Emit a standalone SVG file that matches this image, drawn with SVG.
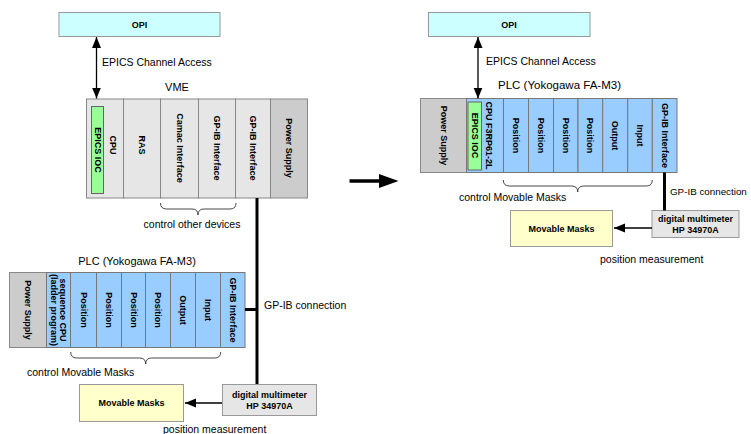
<svg xmlns="http://www.w3.org/2000/svg" width="751" height="434" viewBox="0 0 751 434">
<style>
text{font-family:"Liberation Sans",Arial,Helvetica,sans-serif;fill:#000}
.b{font-weight:bold;font-size:9px}
.lbl{font-size:10.5px}
.ttl{font-size:11px}
.opi{fill:#ccffff;stroke:#999;stroke-width:1}
.grey{fill:#e6e6e6;stroke:#888;stroke-width:1}
.ps{fill:#cccccc;stroke:#888;stroke-width:1}
.blue{fill:#99ccff;stroke:#777;stroke-width:1}
.ioc{fill:#99ff99;stroke:#666;stroke-width:1}
.yel{fill:#ffffcc;stroke:#999;stroke-width:1}
.mm{fill:#e6e6e6;stroke:#999;stroke-width:1}
.brace{fill:none;stroke:#333;stroke-width:0.9}
.arr{stroke:#000;stroke-width:1.3;fill:none}
.bus{stroke:#000;stroke-width:3;fill:none}
.r{text-anchor:middle;dominant-baseline:central}
.c{text-anchor:middle}
</style>
<defs>
<marker id="ah" markerUnits="userSpaceOnUse" markerWidth="12" markerHeight="10" refX="11" refY="4.5" orient="auto-start-reverse">
<path d="M0,0 L11,4.5 L0,9 z" fill="#000"/>
</marker>
</defs>

<!-- ===== LEFT DIAGRAM ===== -->
<g id="opi-left">
<rect class="opi" x="59" y="12.5" width="161" height="24"/>
<text class="b c" x="139.5" y="27.5">OPI</text>
</g>

<g id="vme">
<text class="ttl c" x="177" y="91">VME</text>
<rect class="grey" x="86.5" y="99" width="37" height="99"/>
<rect class="ioc" x="91.5" y="106.5" width="12" height="87"/>
<text class="b r" transform="translate(97.5,150) rotate(90)">EPICS IOC</text>
<text class="b r" transform="translate(112.5,145) rotate(90)">CPU</text>
<rect class="grey" x="123.5" y="99" width="37" height="99"/>
<text class="b r" transform="translate(142,145) rotate(90)">RAS</text>
<rect class="grey" x="160.5" y="99" width="38" height="99"/>
<text class="b r" transform="translate(179.5,148) rotate(90)">Camac Interface</text>
<rect class="grey" x="198.5" y="99" width="37" height="99"/>
<text class="b r" transform="translate(217,148) rotate(90)">GP-IB Interface</text>
<rect class="grey" x="235.5" y="99" width="35" height="99"/>
<text class="b r" transform="translate(253,148) rotate(90)">GP-IB Interface</text>
<rect class="ps" x="270.5" y="99" width="37" height="99"/>
<text class="b r" transform="translate(289,148) rotate(90)">Power Supply</text>
</g>

<g id="vme-brace">
<path class="brace" d="M160.5,203 Q160.5,209 166.5,209 L192,209 Q198,209 198,215 Q198,209 204,209 L230,209 Q236,209 236,203"/>
<text class="lbl c" x="192" y="228">control other devices</text>
</g>

<g id="plc-left">
<text class="ttl c" x="137" y="265">PLC (Yokogawa FA-M3)</text>
<rect class="ps" x="9.5" y="272.5" width="37" height="75"/>
<text class="b r" transform="translate(28,310) rotate(90)">Power Supply</text>
<rect class="blue" x="46.5" y="272.5" width="24" height="75"/>
<text class="b r" transform="translate(63,310) rotate(90)">sequence CPU</text>
<text class="b r" transform="translate(53.5,310) rotate(90)">(ladder program)</text>
<rect class="blue" x="70.5" y="272.5" width="26" height="75"/>
<text class="b r" transform="translate(83.5,310) rotate(90)">Position</text>
<rect class="blue" x="96.5" y="272.5" width="25" height="75"/>
<text class="b r" transform="translate(109,310) rotate(90)">Position</text>
<rect class="blue" x="121.5" y="272.5" width="24" height="75"/>
<text class="b r" transform="translate(133.5,310) rotate(90)">Position</text>
<rect class="blue" x="145.5" y="272.5" width="25" height="75"/>
<text class="b r" transform="translate(158,310) rotate(90)">Position</text>
<rect class="blue" x="170.5" y="272.5" width="25" height="75"/>
<text class="b r" transform="translate(183,310) rotate(90)">Output</text>
<rect class="blue" x="195.5" y="272.5" width="25" height="75"/>
<text class="b r" transform="translate(208,310) rotate(90)">Input</text>
<rect class="blue" x="220.5" y="272.5" width="24.5" height="75"/>
<text class="b r" transform="translate(233,310) rotate(90)">GP-IB Interface</text>
</g>

<g id="plc-left-brace">
<path class="brace" d="M70.7,352 Q70.7,358 76.7,358 L139.7,358 Q145.7,358 145.7,364 Q145.7,358 151.7,358 L214.7,358 Q220.7,358 220.7,352"/>
<text class="lbl" x="27" y="376">control Movable Masks</text>
</g>

<g id="masks-left">
<rect class="yel" x="79.5" y="384.5" width="104" height="37"/>
<text class="b c" x="131.5" y="406">Movable Masks</text>
</g>

<g id="dmm-left">
<rect class="mm" x="222.5" y="384.5" width="94" height="31"/>
<text class="b c" x="269.5" y="398">digital multimeter</text>
<text class="b c" x="269.5" y="409">HP 34970A</text>
</g>

<!-- ===== RIGHT DIAGRAM ===== -->
<g id="opi-right">
<rect class="opi" x="428.5" y="12.5" width="161.5" height="24"/>
<text class="b c" x="509" y="27.5">OPI</text>
</g>

<g id="plc-right">
<text class="ttl c" x="559.5" y="89" style="font-size:11.5px">PLC (Yokogawa FA-M3)</text>
<rect class="ps" x="420.5" y="98.5" width="46" height="74"/>
<text class="b r" transform="translate(443.5,135.5) rotate(90)">Power Supply</text>
<rect class="blue" x="466.5" y="98.5" width="37" height="74"/>
<rect class="ioc" x="468" y="102" width="13.5" height="68"/>
<text class="b r" transform="translate(475,135.5) rotate(90)">EPICS IOC</text>
<text class="b r" transform="translate(489,135.5) rotate(90)">CPU F3RP61-2L</text>
<rect class="blue" x="503.5" y="98.5" width="25" height="74"/>
<text class="b r" transform="translate(516,135.5) rotate(90)">Position</text>
<rect class="blue" x="528.5" y="98.5" width="25" height="74"/>
<text class="b r" transform="translate(541,135.5) rotate(90)">Position</text>
<rect class="blue" x="553.5" y="98.5" width="24.5" height="74"/>
<text class="b r" transform="translate(565.7,135.5) rotate(90)">Position</text>
<rect class="blue" x="578" y="98.5" width="24.7" height="74"/>
<text class="b r" transform="translate(590.3,135.5) rotate(90)">Position</text>
<rect class="blue" x="602.7" y="98.5" width="25" height="74"/>
<text class="b r" transform="translate(615.2,135.5) rotate(90)">Output</text>
<rect class="blue" x="627.7" y="98.5" width="24.6" height="74"/>
<text class="b r" transform="translate(640,135.5) rotate(90)">Input</text>
<rect class="blue" x="652.3" y="98.5" width="24.7" height="74"/>
<text class="b r" transform="translate(664.7,135.5) rotate(90)">GP-IB Interface</text>
</g>

<g id="plc-right-brace">
<path class="brace" d="M503.3,180 Q503.3,186 509.3,186 L571.7,186 Q577.7,186 577.7,192 Q577.7,186 583.7,186 L646.3,186 Q652.3,186 652.3,180"/>
<text class="lbl" x="459" y="201">control Movable Masks</text>
</g>

<g id="masks-right">
<rect class="yel" x="510.5" y="210.5" width="102" height="36"/>
<text class="b c" x="561.5" y="231.5">Movable Masks</text>
</g>

<g id="dmm-right">
<rect class="mm" x="652" y="210.5" width="87" height="27"/>
<text class="b c" x="695.5" y="222">digital multimeter</text>
<text class="b c" x="695.5" y="233">HP 34970A</text>
</g>

<!-- ===== CONNECTORS ===== -->
<g id="connectors">
<line class="arr" x1="96.5" y1="37" x2="96.5" y2="98.5" marker-start="url(#ah)" marker-end="url(#ah)"/>
<text class="lbl" x="102" y="66">EPICS Channel Access</text>
<path class="bus" d="M257,198 V384"/>
<path class="bus" d="M245,309.5 H257"/>
<text class="lbl" x="264" y="308.5">GP-IB connection</text>
<line class="arr" x1="222" y1="403" x2="185" y2="403" marker-end="url(#ah)"/>
<text class="lbl" x="163" y="433">position measurement</text>

<line class="arr" x1="478" y1="37" x2="478" y2="98.5" marker-start="url(#ah)" marker-end="url(#ah)"/>
<text class="lbl" x="486" y="65">EPICS Channel Access</text>
<path class="bus" d="M664.5,172.5 V210.5"/>
<text x="670" y="195" style="font-size:9.8px">GP-IB connection</text>
<line class="arr" x1="652" y1="228" x2="614" y2="228" marker-end="url(#ah)"/>
<text class="lbl" x="600" y="263">position measurement</text>

<line x1="349.5" y1="181" x2="381" y2="181" stroke="#000" stroke-width="3.5"/>
<polygon points="379,174 398.5,181 379,188" fill="#000"/>
</g>
</svg>
